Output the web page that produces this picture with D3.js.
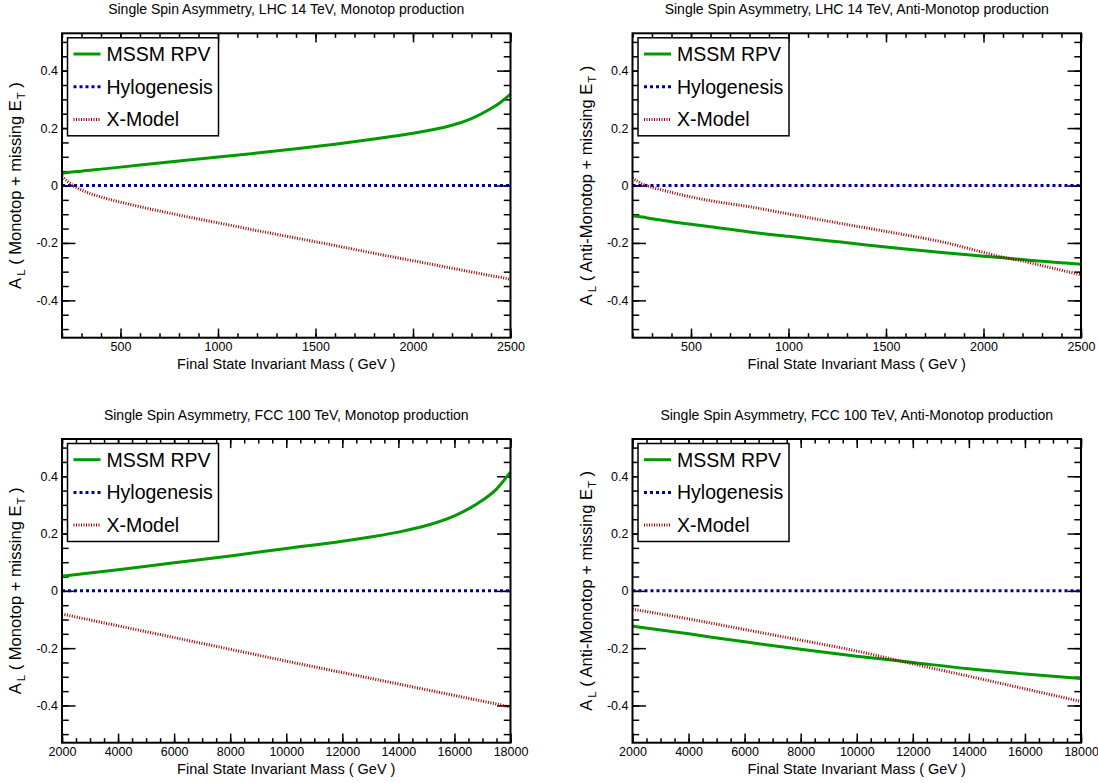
<!DOCTYPE html>
<html>
<head>
<meta charset="utf-8">
<script src="https://cdn.jsdelivr.net/npm/d3@7"></script>
<style>
  body { margin: 0; background: #fff; }
  svg { display: block; font-family: "Liberation Sans", Arial, Helvetica, sans-serif; }
</style>
</head>
<body>
<svg id="chart" width="1098" height="783"></svg>
<script>
// ---- data ----
var legendNames = ["MSSM RPV", "Hylogenesis", "X-Model"];

// LHC 14 TeV, mass in GeV
var lhcMass = [200, 250, 300, 400, 500, 600, 800, 1000, 1200, 1400, 1600, 1800, 2000, 2100, 2200, 2300, 2400, 2450, 2500];
var lhcMonoMSSM = [0.043, 0.047, 0.050, 0.057, 0.064, 0.071, 0.085, 0.099, 0.113, 0.128, 0.144, 0.162, 0.182, 0.194, 0.210, 0.233, 0.268, 0.290, 0.318];
var lhcMonoX = [0.032, 0.003, -0.016, -0.040, -0.058, -0.074, -0.103, -0.130, -0.157, -0.183, -0.209, -0.236, -0.262, -0.275, -0.288, -0.301, -0.314, -0.320, -0.327];
var lhcAntiMSSM = [-0.105, -0.110, -0.116, -0.126, -0.135, -0.144, -0.162, -0.177, -0.192, -0.207, -0.221, -0.234, -0.246, -0.252, -0.258, -0.264, -0.269, -0.272, -0.274];
var lhcAntiX = [0.026, 0.006, -0.006, -0.024, -0.040, -0.053, -0.074, -0.099, -0.124, -0.148, -0.172, -0.198, -0.233, -0.250, -0.263, -0.279, -0.295, -0.303, -0.311];
var lhcHyloMass = [200, 2500];
var lhcHylo = [0, 0];

// FCC 100 TeV
var fccMass = [2000, 4000, 6000, 8000, 10000, 12000, 13000, 14000, 15000, 16000, 16500, 17000, 17500, 18000];
var fccMonoMSSM = [0.051, 0.074, 0.098, 0.122, 0.148, 0.173, 0.188, 0.205, 0.228, 0.262, 0.286, 0.316, 0.355, 0.415];
var fccMonoX = [-0.081, -0.122, -0.163, -0.204, -0.245, -0.285, -0.305, -0.325, -0.345, -0.365, -0.375, -0.385, -0.395, -0.406];
var fccAntiMass = [2000, 4000, 6000, 8000, 10000, 12000, 14000, 16000, 18000];
var fccAntiMSSM = [-0.123, -0.150, -0.178, -0.204, -0.228, -0.250, -0.272, -0.290, -0.306];
var fccAntiX = [-0.064, -0.098, -0.135, -0.172, -0.210, -0.255, -0.298, -0.342, -0.386];
var fccHyloMass = [2000, 18000];
var fccHylo = [0, 0];

// axis ticks
var lhcTicks = [500, 1000, 1500, 2000, 2500];
var fccTicks = [2000, 4000, 6000, 8000, 10000, 12000, 14000, 16000, 18000];
var yTicks = [-0.4, -0.2, 0, 0.2, 0.4];

var titles = [
  "Single Spin Asymmetry, LHC 14 TeV, Monotop production",
  "Single Spin Asymmetry, LHC 14 TeV, Anti-Monotop production",
  "Single Spin Asymmetry, FCC 100 TeV, Monotop production",
  "Single Spin Asymmetry, FCC 100 TeV, Anti-Monotop production"
];
var yTitles = ["Monotop + missing E", "Anti-Monotop + missing E"];

var svg = d3.select("#chart");

function zip(xs, ys) {
  return xs.map(function(v, i) { return [v, ys[i]]; });
}

var panels = [
  { id: 0, left: 62, right: 510.5, top: 33.3, bottom: 337.7, xDomain: [200, 2500], xTicks: lhcTicks, xMinor: d3.range(200, 2501, 100),
    title: titles[0], yTitle: yTitles[0],
    mssm: zip(lhcMass, lhcMonoMSSM), hylo: zip(lhcHyloMass, lhcHylo), xmod: zip(lhcMass, lhcMonoX) },
  { id: 1, left: 632.5, right: 1081, top: 33.3, bottom: 337.7, xDomain: [200, 2500], xTicks: lhcTicks, xMinor: d3.range(200, 2501, 100),
    title: titles[1], yTitle: yTitles[1],
    mssm: zip(lhcMass, lhcAntiMSSM), hylo: zip(lhcHyloMass, lhcHylo), xmod: zip(lhcMass, lhcAntiX) },
  { id: 2, left: 62, right: 510.5, top: 439, bottom: 742.7, xDomain: [2000, 18000], xTicks: fccTicks, xMinor: d3.range(2000, 18001, 500),
    title: titles[2], yTitle: yTitles[0],
    mssm: zip(fccMass, fccMonoMSSM), hylo: zip(fccHyloMass, fccHylo), xmod: zip(fccMass, fccMonoX) },
  { id: 3, left: 632.5, right: 1081, top: 439, bottom: 742.7, xDomain: [2000, 18000], xTicks: fccTicks, xMinor: d3.range(2000, 18001, 500),
    title: titles[3], yTitle: yTitles[1],
    mssm: zip(fccAntiMass, fccAntiMSSM), hylo: zip(fccHyloMass, fccHylo), xmod: zip(fccAntiMass, fccAntiX) }
];

var styles = [
  { key: "mssm", color: "#009900", width: 3, dash: null },
  { key: "hylo", color: "#000099", width: 3, dash: "3,3" },
  { key: "xmod", color: "#a00000", width: 3, dash: "1,1.5" }
];

function styleAxis(sel) {
  sel.attr("font-family", null).attr("font-size", 12.5);
  sel.select(".domain").remove();
  sel.selectAll("line").attr("stroke", "#000").attr("stroke-width", 1.5);
  sel.selectAll("text").attr("fill", "#000");
}

function drawPanel(p) {
  var x = d3.scaleLinear().domain(p.xDomain).range([p.left, p.right]);
  var y = d3.scaleLinear().domain([-0.53, 0.53]).range([p.bottom, p.top]);
  var yLen = 0.03 * (p.right - p.left);
  var xLen = 0.03 * (p.bottom - p.top);
  var yMinor = d3.range(-0.5, 0.51, 0.05).map(function(v) { return Math.round(v * 100) / 100; });
  var g = svg.append("g");

  // title
  g.append("text")
    .attr("x", (p.left + p.right) / 2)
    .attr("y", p.top - 19.5)
    .attr("text-anchor", "middle")
    .attr("font-size", 14)
    .text(p.title);

  // ticks on all four sides, pointing inward
  g.append("g").attr("transform", "translate(0," + p.bottom + ")")
    .call(d3.axisBottom(x).tickValues(p.xTicks).tickSize(-xLen).tickPadding(4).tickFormat(d3.format("d")))
    .call(styleAxis);
  g.append("g").attr("transform", "translate(0," + p.bottom + ")")
    .call(d3.axisBottom(x).tickValues(p.xMinor).tickSize(-xLen / 2).tickFormat(""))
    .call(styleAxis);
  g.append("g").attr("transform", "translate(0," + p.top + ")")
    .call(d3.axisTop(x).tickValues(p.xTicks).tickSize(-xLen).tickFormat(""))
    .call(styleAxis);
  g.append("g").attr("transform", "translate(0," + p.top + ")")
    .call(d3.axisTop(x).tickValues(p.xMinor).tickSize(-xLen / 2).tickFormat(""))
    .call(styleAxis);

  g.append("g").attr("transform", "translate(" + p.left + ",0)")
    .call(d3.axisLeft(y).tickValues(yTicks).tickSize(-yLen).tickPadding(4).tickFormat(function(d) { return String(d); }))
    .call(styleAxis);
  g.append("g").attr("transform", "translate(" + p.left + ",0)")
    .call(d3.axisLeft(y).tickValues(yMinor).tickSize(-yLen / 2).tickFormat(""))
    .call(styleAxis);
  g.append("g").attr("transform", "translate(" + p.right + ",0)")
    .call(d3.axisRight(y).tickValues(yTicks).tickSize(-yLen).tickFormat(""))
    .call(styleAxis);
  g.append("g").attr("transform", "translate(" + p.right + ",0)")
    .call(d3.axisRight(y).tickValues(yMinor).tickSize(-yLen / 2).tickFormat(""))
    .call(styleAxis);

  // axis titles
  g.append("text")
    .attr("x", (p.left + p.right) / 2)
    .attr("y", p.bottom + 31.5)
    .attr("text-anchor", "middle")
    .attr("font-size", 14.5)
    .text("Final State Invariant Mass ( GeV )");

  var yt = g.append("text")
    .attr("transform", "translate(" + (p.left - 41) + "," + ((p.top + p.bottom) / 2) + ") rotate(-90)")
    .attr("text-anchor", "middle")
    .attr("font-size", 16.5);
  yt.append("tspan").text("A");
  yt.append("tspan").attr("font-size", 11.5).attr("dx", 2).attr("dy", 4).text("L");
  yt.append("tspan").attr("dy", -4).text(" ( " + p.yTitle);
  yt.append("tspan").attr("font-size", 11.5).attr("dx", 1).attr("dy", 4).text("T");
  yt.append("tspan").attr("dy", -4).text("  )");

  // curves
  var clipId = "clip" + p.id;
  svg.append("clipPath").attr("id", clipId).append("rect")
    .attr("x", p.left).attr("y", p.top)
    .attr("width", p.right - p.left).attr("height", p.bottom - p.top);

  var line = d3.line()
    .x(function(d) { return x(d[0]); })
    .y(function(d) { return y(d[1]); })
    .curve(d3.curveMonotoneX);

  var curves = g.append("g").attr("clip-path", "url(#" + clipId + ")");
  styles.forEach(function(s) {
    curves.append("path")
      .datum(p[s.key])
      .attr("fill", "none")
      .attr("stroke", s.color)
      .attr("stroke-width", s.width)
      .attr("stroke-dasharray", s.dash)
      .attr("d", line);
  });

  // frame
  g.append("rect")
    .attr("x", p.left).attr("y", p.top)
    .attr("width", p.right - p.left).attr("height", p.bottom - p.top)
    .attr("fill", "none").attr("stroke", "#000").attr("stroke-width", 2);

  // legend
  var lg = g.append("g");
  lg.append("rect")
    .attr("x", p.left + 5.5).attr("y", p.top + 4.5)
    .attr("width", 151).attr("height", 98)
    .attr("fill", "#fff").attr("stroke", "#000").attr("stroke-width", 1.5);
  styles.forEach(function(s, i) {
    var cy = p.top + 20.7 + i * 32.7;
    lg.append("line")
      .attr("x1", p.left + 11.5).attr("x2", p.left + 38.5)
      .attr("y1", cy).attr("y2", cy)
      .attr("stroke", s.color).attr("stroke-width", s.width)
      .attr("stroke-dasharray", s.dash);
    lg.append("text")
      .attr("x", p.left + 44.5).attr("y", cy)
      .attr("dy", "0.36em")
      .attr("font-size", 19.5)
      .text(legendNames[i]);
  });
}

panels.forEach(drawPanel);
</script>
</body>
</html>
